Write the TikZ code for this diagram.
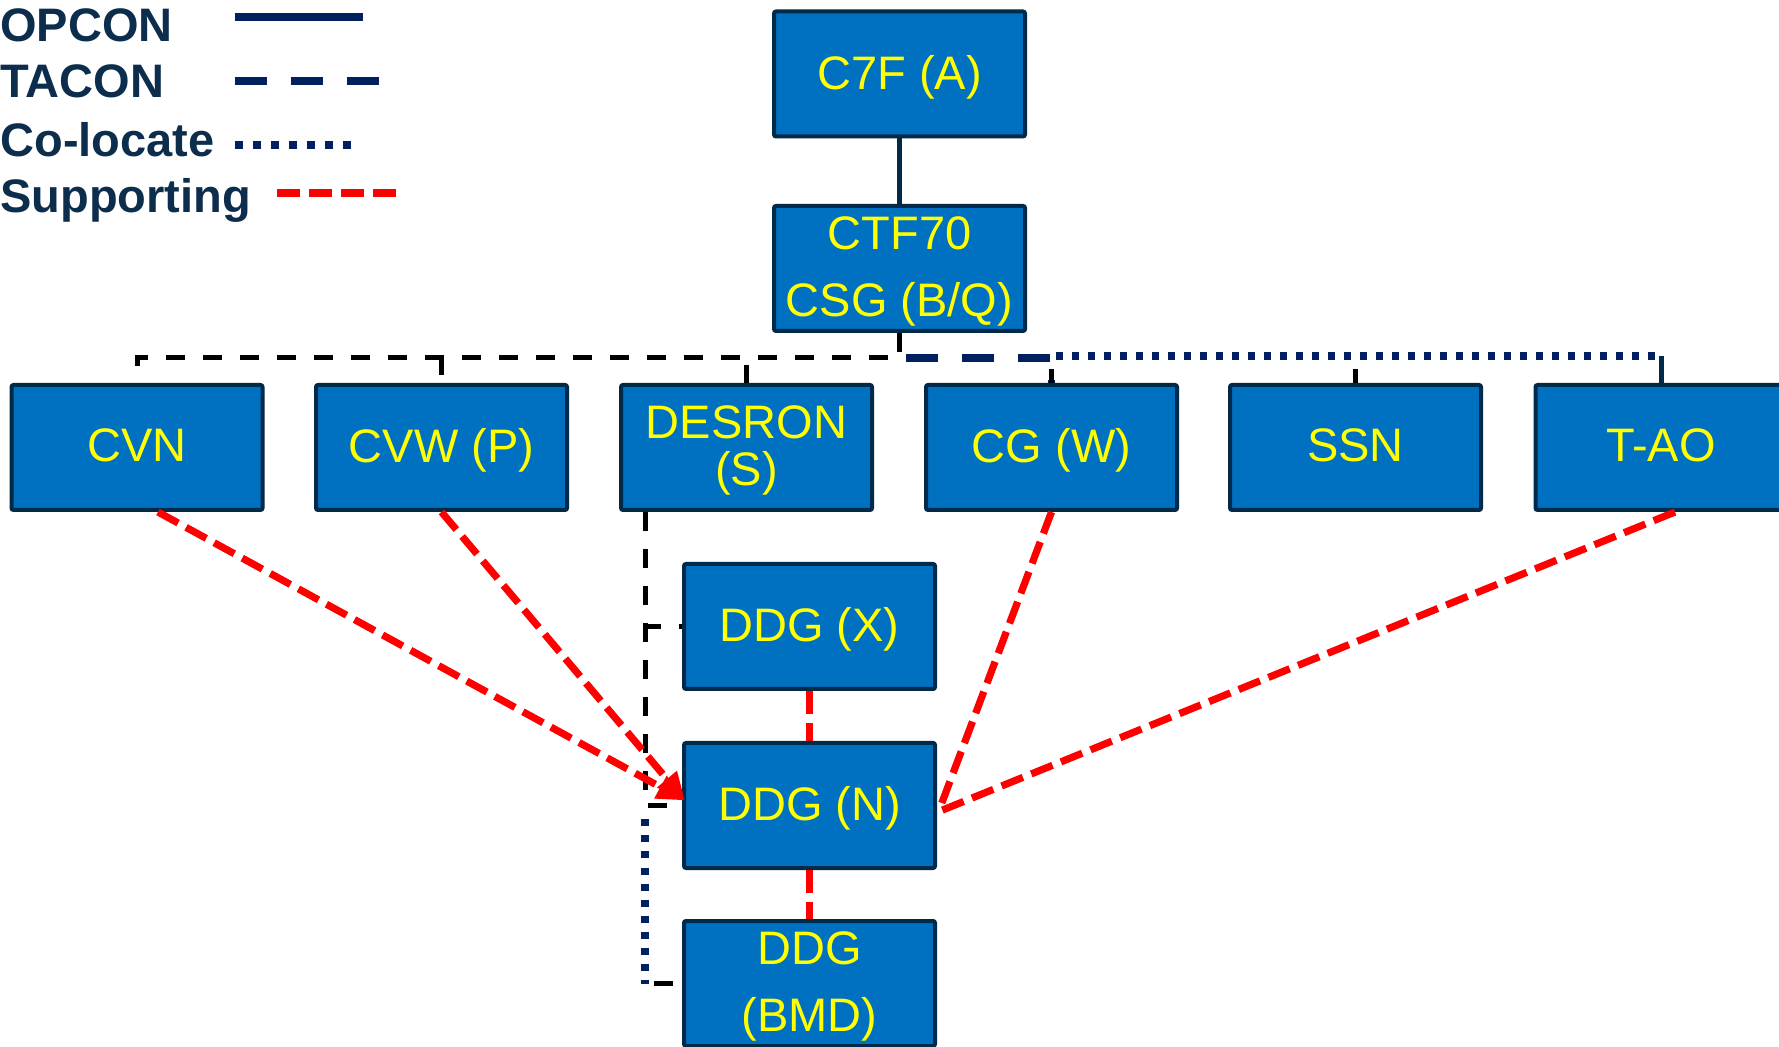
\documentclass[tikz,border=0pt]{standalone}
\usepackage{fontspec}
\setmainfont{Liberation Sans}
\usetikzlibrary{arrows.meta,calc}

\definecolor{boxfill}{HTML}{0070C0}
\definecolor{boxline}{HTML}{002A48}
\definecolor{navyline}{HTML}{002060}
\definecolor{legendtext}{HTML}{0C2D4C}
\definecolor{labelyellow}{HTML}{FFFF00}
\definecolor{supred}{HTML}{FF0000}

\begin{document}
\begin{tikzpicture}[x=0.5pt,y=-0.5pt,
  unit/.style={draw=boxline, fill=boxfill, line width=2pt, rounded corners=1pt,
    minimum width=125.5pt, minimum height=62.5pt, inner sep=0pt, text depth=2pt,
    text=labelyellow, font=\fontsize{23.5}{33.5}\selectfont, align=center},
  legendlabel/.style={anchor=base west, inner sep=0pt, text=legendtext,
    font=\fontsize{23.5}{28}\selectfont\bfseries},
  opconline/.style={draw=navyline, line width=3.8pt},
  taconline/.style={draw=navyline, line width=3.8pt, dash pattern=on 16pt off 12pt},
  tacblack/.style={draw=black, line width=2.5pt, dash pattern=on 9.5pt off 9pt},
  colocline/.style={draw=navyline, line width=3.8pt, dash pattern=on 3.5pt off 4.5pt},
  legcoloc/.style={draw=navyline, line width=3.8pt, dash pattern=on 4pt off 5pt},
  supportline/.style={draw=supred, line width=3.6pt, dash pattern=on 11.5pt off 4.5pt},
  linkline/.style={draw=boxline, line width=2.5pt},
  stubline/.style={draw=black, line width=2.2pt},
  suptip/.style={-{Triangle[length=14pt,width=12pt]}},
]
\useasboundingbox (0,0) rectangle (1779,1047);
\clip (0,0) rectangle (1779,1047);

% legend
\node[legendlabel] (lgop) at (0,42) {OPCON};
\node[legendlabel] (lgta) at (0,98) {TACON};
\node[legendlabel] (lgco) at (0,157) {Co-locate};
\node[legendlabel] (lgsu) at (0,213) {Supporting};
\draw[opconline] (235,17) -- (363,17);
\draw[taconline] (235,81) -- (379,81);
\draw[legcoloc] (235,145) -- (355,145);
\draw[supportline] (277,193) -- (396,193);

% command boxes
\node[unit] (c7f) at (899.5,74) {C7F (A)};
\node[unit] (ctf) at (899.5,268.5) {CTF70\\CSG (B/Q)};
\node[unit] (cvn) at (137,447.5) {CVN};
\node[unit] (cvw) at (441.5,447.5) {CVW (P)};
\node[unit, font=\fontsize{23.5}{23.5}\selectfont] (desron) at (746.5,447.5) {DESRON\\(S)};
\node[unit] (cg) at (1051.5,447.5) {CG (W)};
\node[unit] (ssn) at (1355.5,447.5) {SSN};
\node[unit] (tao) at (1661,447.5) {T-AO};
\node[unit] (ddgx) at (809.5,626.5) {DDG (X)};
\node[unit] (ddgn) at (809.5,805.5) {DDG (N)};
\node[unit] (ddgb) at (809.5,983.5) {DDG\\(BMD)};

% OPCON link
\draw[linkline] (c7f.south) -- (ctf.north);

% distribution bus under CTF70
\coordinate (bus) at (0,358);
\draw[tacblack] (ctf.south) -- (ctf.south |- bus) -| (cvn.north);
\draw[tacblack] (ctf.south) -- (ctf.south |- bus) -| (cvw.north);
\draw[tacblack] (ctf.south) -- (ctf.south |- bus) -| (desron.north);
\draw[taconline] ($(ctf.south |- bus)+(6,0)$) -| (cg.north);
\draw[colocline] ($(cg.north |- bus)+(4,-2)$) -- ($(tao.north |- bus)+(0,-2)$);
\draw[linkline] ($(tao.north |- bus)+(0,-2)$) -- (tao.north);
\draw[stubline] (cg.north) -- ++(0,-14);
\draw[stubline] (ssn.north) -- ++(0,-14);

% DESRON to its destroyers
\coordinate (dtap) at ($(desron.south west)+(26,0)$);
\coordinate (dlow) at (dtap |- ddgn.west);
\draw[tacblack] (dtap) |- (ddgx.west);
\draw[tacblack] (dtap) |- (ddgn.west);
\draw[colocline] ($(dlow)+(0,14)$) -- (dlow |- ddgb.west);
\draw[tacblack, dash phase=14pt] (dlow |- ddgb.west) -- (ddgb.west);

% supporting relationships
\draw[supportline, suptip] ($(cvn.south)+(21,0)$) -- ($(ddgn.west)+(3,-5)$);
\draw[supportline, suptip] (cvw.south) -- ($(ddgn.west)+(3,-5)$);
\draw[supportline] (cg.south) -- ($(ddgn.east)+(2,5)$);
\draw[supportline] ($(tao.south)+(14,0)$) -- ($(ddgn.east)+(2,6)$);
\draw[supportline] (ddgx.south) -- (ddgn.north);
\draw[supportline] (ddgn.south) -- (ddgb.north);
\end{tikzpicture}
\end{document}
